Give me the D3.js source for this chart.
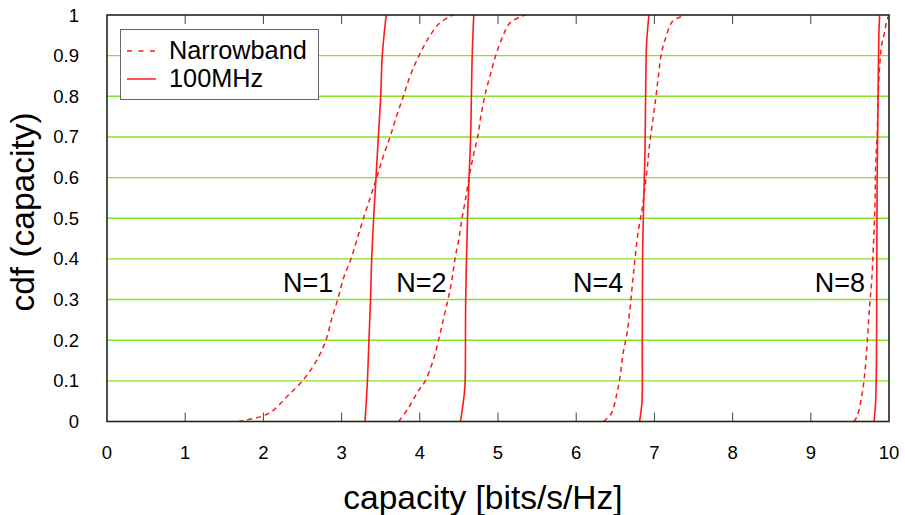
<!DOCTYPE html>
<html>
<head>
<meta charset="utf-8">
<script src="https://cdn.jsdelivr.net/npm/d3@7"></script>
<style>
  html, body { margin: 0; padding: 0; background: #fff; }
  svg { display: block; font-family: "Liberation Sans", Arial, Helvetica, sans-serif; }
</style>
</head>
<body>
<svg id="chart" width="905" height="515"></svg>
<script>
// Tick values and labels
const xTicks = [0, 1, 2, 3, 4, 5, 6, 7, 8, 9, 10];
const yTicks = [0, 0.1, 0.2, 0.3, 0.4, 0.5, 0.6, 0.7, 0.8, 0.9, 1];
const yTickLabels = ["0", "0.1", "0.2", "0.3", "0.4", "0.5", "0.6", "0.7", "0.8", "0.9", "1"];

// Empirical CDFs of capacity: [capacity (bits/s/Hz), cdf]
const narrowN1 = [[1.68,0],[2.0,0.014],[2.13,0.028],[2.30,0.061],[2.50,0.10],[2.68,0.15],[2.80,0.20],[2.87,0.25],[2.95,0.30],[3.03,0.356],[3.12,0.40],[3.20,0.45],[3.28,0.50],[3.37,0.553],[3.45,0.60],[3.53,0.651],[3.62,0.70],[3.70,0.75],[3.79,0.80],[3.88,0.852],[3.99,0.90],[4.11,0.943],[4.24,0.978],[4.39,0.997],[4.43,1]];
const wideN1 = [[3.30,0],[3.33,0.10],[3.35,0.20],[3.37,0.30],[3.385,0.40],[3.41,0.50],[3.44,0.60],[3.47,0.70],[3.50,0.80],[3.52,0.90],[3.57,1]];
const narrowN2 = [[3.73,0],[3.85,0.032],[3.97,0.072],[4.07,0.10],[4.17,0.15],[4.24,0.20],[4.30,0.25],[4.36,0.30],[4.41,0.348],[4.45,0.40],[4.50,0.45],[4.54,0.50],[4.59,0.553],[4.63,0.60],[4.68,0.65],[4.74,0.70],[4.78,0.75],[4.83,0.80],[4.90,0.852],[4.97,0.90],[5.06,0.947],[5.15,0.98],[5.28,0.995],[5.35,1]];
const wideN2 = [[4.52,0],[4.57,0.07],[4.58,0.10],[4.587,0.30],[4.61,0.50],[4.63,0.60],[4.65,0.70],[4.66,0.80],[4.67,0.90],[4.69,1]];
const narrowN4 = [[6.35,0],[6.45,0.02],[6.52,0.069],[6.56,0.11],[6.60,0.168],[6.65,0.217],[6.69,0.282],[6.72,0.34],[6.75,0.397],[6.79,0.463],[6.84,0.52],[6.88,0.578],[6.91,0.627],[6.94,0.684],[6.98,0.742],[7.02,0.799],[7.05,0.848],[7.09,0.906],[7.15,0.947],[7.23,0.984],[7.37,0.998],[7.40,1]];
const wideN4 = [[6.81,0],[6.84,0.045],[6.845,0.18],[6.85,0.42],[6.87,0.59],[6.88,0.67],[6.89,0.84],[6.90,0.93],[6.93,1]];
const narrowN8 = [[9.55,0],[9.59,0.012],[9.65,0.061],[9.69,0.118],[9.72,0.19],[9.75,0.28],[9.78,0.35],[9.80,0.43],[9.82,0.53],[9.83,0.63],[9.85,0.71],[9.86,0.79],[9.88,0.873],[9.91,0.93],[9.94,0.955],[9.97,0.984],[9.99,0.996]];
const wideN8 = [[9.81,0],[9.83,0.053],[9.84,0.15],[9.845,0.45],[9.85,0.63],[9.86,0.79],[9.87,0.95],[9.88,1]];

const narrowCurves = [narrowN1, narrowN2, narrowN4, narrowN8];
const wideCurves = [wideN1, wideN2, wideN4, wideN8];

// Curve annotations: text and position [capacity, cdf]
const curveLabels = ["N=1", "N=2", "N=4", "N=8"];
const curveLabelPos = [[2.25, 0.32], [3.70, 0.32], [5.96, 0.32], [9.05, 0.32]];

const legendNames = ["Narrowband", "100MHz"];

const svg = d3.select("#chart");
const margin = { left: 107, right: 16, top: 15, bottom: 93.5 };
const W = 905, H = 515;

const x = d3.scaleLinear().domain([0, 10]).range([margin.left, W - margin.right]);
const y = d3.scaleLinear().domain([0, 1]).range([H - margin.bottom, margin.top]);

// Horizontal grid lines
svg.append("g")
  .selectAll("line")
  .data(yTicks.filter(v => v > 0 && v < 1))
  .join("line")
  .attr("x1", x(0)).attr("x2", x(10))
  .attr("y1", d => y(d)).attr("y2", d => y(d))
  .attr("stroke", "#86e32c")
  .attr("stroke-width", 1.4);

// Inward tick marks on bottom and top edges
const tickLen = 9;
const innerTicks = xTicks.filter(v => v > 0 && v < 10);
svg.append("g")
  .selectAll("line")
  .data(innerTicks)
  .join("line")
  .attr("x1", d => x(d)).attr("x2", d => x(d))
  .attr("y1", y(0)).attr("y2", y(0) - tickLen)
  .attr("stroke", "#444").attr("stroke-width", 1);
svg.append("g")
  .selectAll("line")
  .data(innerTicks)
  .join("line")
  .attr("x1", d => x(d)).attr("x2", d => x(d))
  .attr("y1", y(1)).attr("y2", y(1) + tickLen)
  .attr("stroke", "#444").attr("stroke-width", 1);

// Tick labels
svg.append("g")
  .selectAll("text")
  .data(xTicks)
  .join("text")
  .attr("x", d => x(d))
  .attr("y", y(0) + 37)
  .attr("text-anchor", "middle")
  .attr("font-size", 18.5)
  .text(d => d);
svg.append("g")
  .selectAll("text")
  .data(yTicks)
  .join("text")
  .attr("x", 79)
  .attr("y", d => y(d) + 6.5)
  .attr("text-anchor", "end")
  .attr("font-size", 18.5)
  .text((d, i) => yTickLabels[i]);

// Curves
const line = d3.line()
  .x(d => x(d[0]))
  .y(d => y(d[1]))
  .curve(d3.curveCatmullRom.alpha(0.5));

const plot = svg.append("g");
plot.selectAll("path.narrow")
  .data(narrowCurves)
  .join("path")
  .attr("class", "narrow")
  .attr("d", line)
  .attr("fill", "none")
  .attr("stroke", "#ff1a1a")
  .attr("stroke-width", 1.5)
  .attr("stroke-dasharray", "5,4");
plot.selectAll("path.wide")
  .data(wideCurves)
  .join("path")
  .attr("class", "wide")
  .attr("d", line)
  .attr("fill", "none")
  .attr("stroke", "#ff1a1a")
  .attr("stroke-width", 1.6);

// Curve annotations
svg.append("g")
  .selectAll("text")
  .data(curveLabels)
  .join("text")
  .attr("x", (d, i) => x(curveLabelPos[i][0]))
  .attr("y", (d, i) => y(curveLabelPos[i][1]) + 1)
  .attr("font-size", 27)
  .attr("fill", "#000")
  .text(d => d);

// Plot frame
svg.append("rect")
  .attr("x", x(0)).attr("y", y(1))
  .attr("width", x(10) - x(0)).attr("height", y(0) - y(1))
  .attr("fill", "none")
  .attr("stroke", "#1e2a14")
  .attr("stroke-width", 1.6);

// Legend
const lg = svg.append("g");
lg.append("rect")
  .attr("x", 120.5).attr("y", 29.5)
  .attr("width", 198).attr("height", 70)
  .attr("fill", "#fff")
  .attr("stroke", "#666").attr("stroke-width", 1);
const legendRows = [51, 79];
lg.selectAll("line")
  .data(legendNames)
  .join("line")
  .attr("x1", 127).attr("x2", 156)
  .attr("y1", (d, i) => legendRows[i]).attr("y2", (d, i) => legendRows[i])
  .attr("stroke", "#ff1a1a")
  .attr("stroke-width", 1.5)
  .attr("stroke-dasharray", (d, i) => i === 0 ? "5,6.5" : null);
lg.selectAll("text")
  .data(legendNames)
  .join("text")
  .attr("x", 169)
  .attr("y", (d, i) => legendRows[i] + 8)
  .attr("font-size", 25.3)
  .text(d => d);

// Axis titles
svg.append("text")
  .attr("x", 483).attr("y", 509)
  .attr("text-anchor", "middle")
  .attr("font-size", 33.5)
  .text("capacity [bits/s/Hz]");
svg.append("text")
  .attr("transform", "translate(34,212) rotate(-90)")
  .attr("text-anchor", "middle")
  .attr("font-size", 33.5)
  .text("cdf (capacity)");
</script>
</body>
</html>
